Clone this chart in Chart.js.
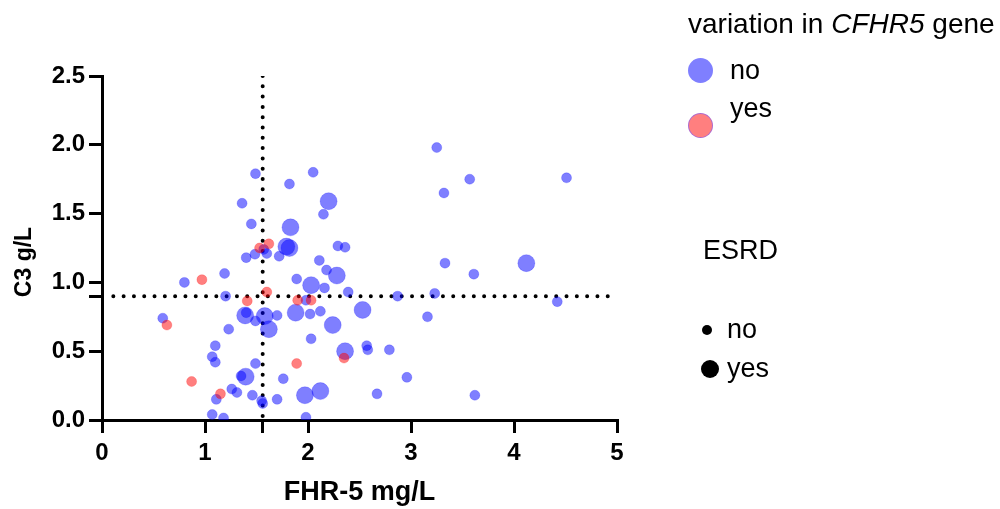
<!DOCTYPE html>
<html>
<head>
<meta charset="utf-8">
<script src="https://cdn.jsdelivr.net/npm/chart.js@4/dist/chart.umd.min.js"></script>
<style>
  body { margin: 0; background: #fff; }
  #wrap { position: relative; width: 1000px; height: 509px; font-family: Arial, "Liberation Sans", sans-serif; }
  .lg { position: absolute; font-size: 27px; line-height: 1; color: #000; white-space: nowrap; }
  .dot { position: absolute; border-radius: 50%; box-sizing: border-box; }
</style>
</head>
<body>
<div id="wrap">
  <canvas id="chart" width="1000" height="509"></canvas>
  <div class="lg" style="left:688px;top:10px;font-size:28px">variation in <i>CFHR5</i> gene</div>
  <div class="dot" id="lgNo" style="left:688px;top:58px;width:25px;height:25px"></div>
  <div class="lg" style="left:730px;top:57px">no</div>
  <div class="dot" id="lgYes" style="left:688px;top:113px;width:25px;height:25px"></div>
  <div class="lg" style="left:730px;top:95px">yes</div>
  <div class="lg" style="left:703px;top:237px">ESRD</div>
  <div class="dot" style="left:702px;top:325px;width:10px;height:10px;background:#000"></div>
  <div class="lg" style="left:727px;top:316px">no</div>
  <div class="dot" style="left:701px;top:360px;width:18px;height:18px;background:#000"></div>
  <div class="lg" style="left:727px;top:355px">yes</div>
</div>
<script>
const fhr5Cutoff = 1.56;
const c3Cutoff = 0.9;
const c3CutoffSpan = [0.11, 4.95];
const xTicks = [0, 1, 2, 3, 4, 5];
const yTicks = [0, 0.5, 1, 1.5, 2, 2.5];

// no variant in CFHR5, no ESRD
const noVarNoEsrdFhr5 = [3.25, 3.57, 3.32, 4.51, 3.33, 3.61, 3.23, 4.42, 3.16, 3.62,
  1.89, 2.16, 2.18, 1.98, 2.39, 2.87, 1.70, 2.02, 2.12, 2.03,
  2.57, 2.58, 2.79, 1.76, 2.96, 1.70, 2.67, 1.98, 1.55, 1.56,
  2.05, 1.82, 1.49, 2.15, 1.72, 2.29, 2.36, 2.11, 1.60, 1.57,
  1.36, 1.45, 1.485, 1.40, 1.19, 0.80, 1.20, 1.40, 1.49, 1.23,
  1.10, 1.07, 1.10, 1.49, 1.35, 1.11, 1.26, 1.31, 1.46, 1.07,
  1.18, 0.59];
const noVarNoEsrdC3 = [1.98, 1.75, 1.65, 1.76, 1.14, 1.06, 0.92, 0.86, 0.75, 0.18,
  1.025, 0.96, 1.09, 0.87, 0.93, 0.90, 0.76, 0.77, 0.79, 0.59,
  0.54, 0.51, 0.51, 0.30, 0.31, 0.15, 0.19, 0.02, 0.14, 0.12,
  1.80, 1.715, 1.79, 1.495, 1.19, 1.265, 1.255, 1.16, 1.21, 1.24,
  1.575, 1.425, 1.205, 1.18, 1.065, 1.00, 0.90, 0.78, 0.72, 0.66,
  0.54, 0.46, 0.42, 0.41, 0.32, 0.15, 0.225, 0.20, 0.18, 0.04,
  0.015, 0.74];

// no variant in CFHR5, ESRD
const noVarEsrdFhr5 = [4.12, 2.03, 2.28, 1.58, 1.62, 1.88, 2.24, 2.53, 2.36, 1.97,
  2.12, 2.20, 1.83, 1.79, 1.82, 1.39, 1.395];
const noVarEsrdC3 = [1.14, 0.98, 1.05, 0.755, 0.66, 0.78, 0.69, 0.80, 0.50, 0.18,
  0.21, 1.59, 1.40, 1.26, 1.25, 0.76, 0.315];

// variant in CFHR5, no ESRD
const varNoEsrdFhr5 = [1.53, 1.62, 0.97, 1.60, 1.41, 1.90, 2.03, 0.63, 0.87, 1.15, 1.89, 2.35];
const varNoEsrdC3 = [1.25, 1.28, 1.02, 0.93, 0.865, 0.87, 0.87, 0.69, 0.28, 0.19, 0.41, 0.45];

const blueFill = 'rgba(0, 0, 255, 0.5)';
const redFill = 'rgba(255, 0, 0, 0.5)';
const smallRadius = 5;
const largeRadius = 8.5;
const fontFamily = 'Arial, "Liberation Sans", sans-serif';

const toPoints = (xs, ys) => xs.map((x, i) => ({ x: x, y: ys[i] }));

document.getElementById('lgNo').style.background = blueFill;
document.getElementById('lgYes').style.background = redFill;
document.getElementById('lgYes').style.border = '1px solid rgba(120, 90, 255, 0.6)';

Chart.defaults.font.family = fontFamily;
Chart.defaults.color = '#000';

// y axis title sits a bit below the middle of the axis in the original
const yTitle = {
  id: 'yTitle',
  afterDraw(chart) {
    const ctx = chart.ctx;
    ctx.save();
    ctx.translate(25, 262);
    ctx.rotate(-Math.PI / 2);
    ctx.font = 'bold 23px ' + fontFamily;
    ctx.fillStyle = '#000';
    ctx.textAlign = 'center';
    ctx.textBaseline = 'middle';
    ctx.fillText('C3 g/L', 0, 0);
    ctx.restore();
  }
};

const dotted = {
  showLine: true,
  pointRadius: 0,
  borderColor: '#000',
  borderWidth: 4,
  borderCapStyle: 'round',
  borderDash: [0, 10.3],
  order: 3
};

new Chart(document.getElementById('chart'), {
  type: 'scatter',
  data: {
    datasets: [
      {
        data: toPoints(varNoEsrdFhr5, varNoEsrdC3),
        backgroundColor: redFill,
        borderColor: 'rgba(255, 0, 0, 0.2)',
        borderWidth: 1,
        pointRadius: smallRadius,
        order: 0
      },
      {
        data: toPoints(noVarEsrdFhr5, noVarEsrdC3),
        backgroundColor: blueFill,
        borderColor: 'rgba(0, 0, 255, 0.2)',
        borderWidth: 1,
        pointRadius: largeRadius,
        order: 1
      },
      {
        data: toPoints(noVarNoEsrdFhr5, noVarNoEsrdC3),
        backgroundColor: blueFill,
        borderColor: 'rgba(0, 0, 255, 0.2)',
        borderWidth: 1,
        pointRadius: smallRadius,
        order: 2
      },
      Object.assign({ data: [{ x: fhr5Cutoff, y: 2.5 }, { x: fhr5Cutoff, y: 0 }] }, dotted),
      Object.assign({ data: c3CutoffSpan.map(x => ({ x: x, y: c3Cutoff })) }, dotted)
    ]
  },
  options: {
    responsive: false,
    animation: false,
    layout: { padding: { top: 76, right: 383, left: 0, bottom: 0 } },
    plugins: { legend: { display: false }, tooltip: { enabled: false } },
    scales: {
      x: {
        type: 'linear',
        min: 0,
        max: 5,
        z: 1,
        afterBuildTicks: s => { s.ticks = [...xTicks, fhr5Cutoff].sort((a, b) => a - b).map(v => ({ value: v })); },
        afterFit: s => { s.height = 89; },
        ticks: {
          autoSkip: false,
          maxRotation: 0,
          padding: 6,
          font: { size: 24, weight: 'bold' },
          callback: v => xTicks.includes(v) ? String(v) : ''
        },
        grid: { drawOnChartArea: false, drawTicks: true, tickLength: 13, lineWidth: 3, color: '#000' },
        border: { display: true, width: 3, color: '#000' },
        title: { display: true, text: 'FHR-5 mg/L', font: { size: 27, weight: 'bold' }, padding: { top: 0, bottom: 0 } }
      },
      y: {
        type: 'linear',
        min: 0,
        max: 2.5,
        z: 1,
        afterBuildTicks: s => { s.ticks = [...yTicks, c3Cutoff].sort((a, b) => a - b).map(v => ({ value: v })); },
        afterFit: s => { s.width = 102; },
        ticks: {
          autoSkip: false,
          padding: 4,
          font: { size: 24, weight: 'bold' },
          callback: v => yTicks.includes(v) ? v.toFixed(1) : ''
        },
        grid: { drawOnChartArea: false, drawTicks: true, tickLength: 13, lineWidth: 3, color: '#000' },
        border: { display: true, width: 3, color: '#000' }
      }
    }
  },
  plugins: [yTitle]
});
</script>
</body>
</html>
